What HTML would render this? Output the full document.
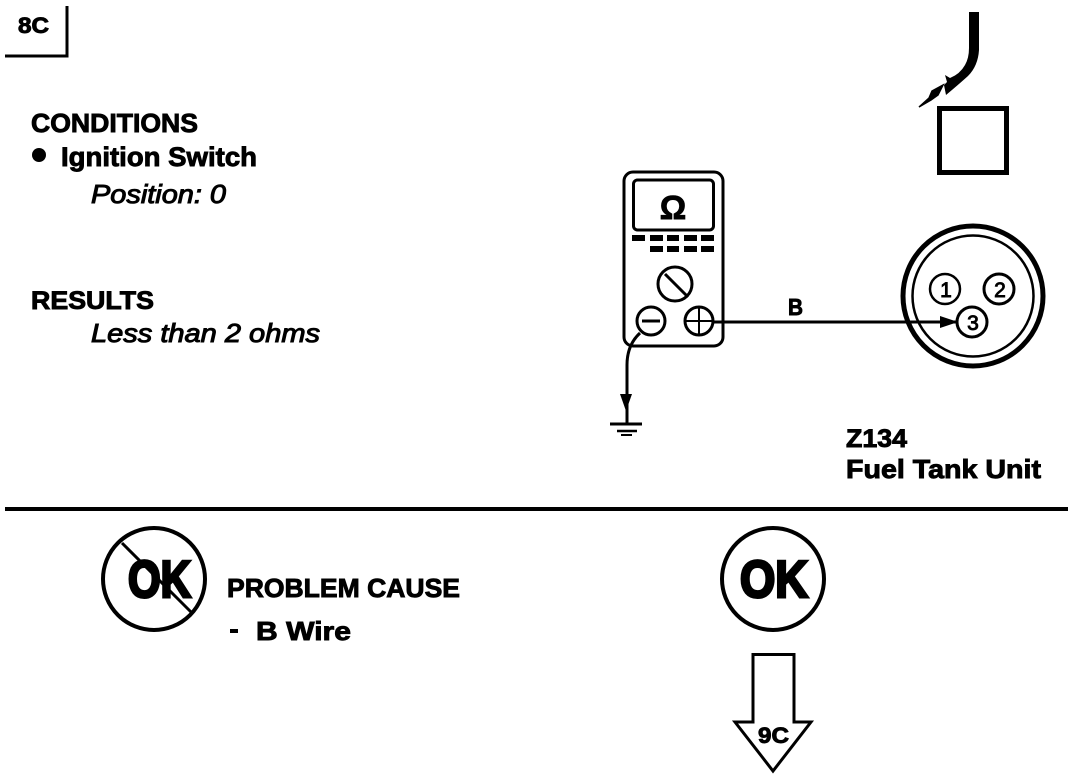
<!DOCTYPE html>
<html><head><meta charset="utf-8"><style>
html,body{margin:0;padding:0;background:#fff;width:1088px;height:778px;overflow:hidden}
svg{display:block}
text{font-family:"Liberation Sans",sans-serif;fill:#000;stroke:#000;stroke-width:.9;font-weight:bold}
.i{font-style:italic;font-weight:normal;stroke-width:1}
.n{font-weight:normal;stroke-width:.9}
.ok{stroke-width:3}
</style></head><body>
<svg width="1088" height="778" viewBox="0 0 1088 778" xmlns="http://www.w3.org/2000/svg" fill="none" stroke="#000">
<path d="M5 56H67V6" stroke-width="3"/>
<text x="18" y="33" font-size="22" textLength="31" lengthAdjust="spacingAndGlyphs">8C</text>
<text x="31" y="132" font-size="26" textLength="167" lengthAdjust="spacingAndGlyphs">CONDITIONS</text>
<circle cx="39" cy="155" r="7" fill="#000" stroke="none"/>
<text x="61" y="166" font-size="27" textLength="196" lengthAdjust="spacingAndGlyphs">Ignition Switch</text>
<text class="i" x="91" y="203" font-size="26" textLength="135" lengthAdjust="spacingAndGlyphs">Position: 0</text>
<text x="31" y="309" font-size="25" textLength="123" lengthAdjust="spacingAndGlyphs">RESULTS</text>
<text class="i" x="91" y="342" font-size="26" textLength="229" lengthAdjust="spacingAndGlyphs">Less than 2 ohms</text>

<path d="M969 12H979V50Q978 66 968 76Q958 85 946 95L944 85 947 82 945 75 950 78Q960 74 965 65Q969 58 969 48Z" fill="#000" stroke="none"/>
<path d="M919 107L929 98 932 91 943 85 938 95 931 100Z" fill="#000" stroke="#000" stroke-width="1.500"/>
<rect x="939.500" y="108.500" width="67" height="64" stroke-width="5"/>

<rect x="624" y="172" width="99" height="174" rx="9" stroke-width="3"/>
<rect x="633.500" y="180" width="80" height="50" rx="4" stroke-width="3"/>
<text x="673" y="219" font-size="33" text-anchor="middle">Ω</text>
<g fill="#000" stroke="none">
<rect x="632" y="235" width="13" height="6"/><rect x="650" y="235" width="13" height="6"/><rect x="667" y="235" width="12" height="6"/><rect x="684" y="235" width="13" height="6"/><rect x="701" y="235" width="13" height="6"/>
<rect x="650" y="246" width="13" height="6"/><rect x="667" y="246" width="12" height="6"/><rect x="684" y="246" width="13" height="6"/><rect x="701" y="246" width="13" height="6"/>
</g>
<circle cx="675" cy="284" r="17" stroke-width="3"/>
<path d="M665 274L688 297" stroke-width="3"/>
<circle cx="651" cy="321" r="14" stroke-width="3"/>
<path d="M642 321H660" stroke-width="3"/>
<circle cx="699" cy="321" r="14" stroke-width="3"/>
<path d="M686 321H712M699 308V334" stroke-width="2"/>
<path d="M640 333Q627 345 627 365V424" stroke-width="3"/>
<path d="M620 394H632L626 411Z" fill="#000" stroke="none"/>
<path d="M610 424H642" stroke-width="3"/>
<path d="M617 431H637" stroke-width="2.500"/>
<path d="M621 435H632" stroke-width="2"/>

<path d="M713 322H958" stroke-width="3"/>
<path d="M940 316L958 322 940 328Z" fill="#000" stroke="none"/>
<text x="788" y="315" font-size="23" textLength="15" lengthAdjust="spacingAndGlyphs">B</text>
<circle cx="973" cy="296" r="70" stroke-width="5"/>
<circle cx="973" cy="296" r="60.500" stroke-width="2.500"/>
<circle cx="945" cy="289" r="15" stroke-width="2.500"/>
<circle cx="999" cy="289" r="15" stroke-width="3"/>
<circle cx="972" cy="322" r="15" stroke-width="3" fill="#fff"/>
<text class="n" x="946" y="297" font-size="21" text-anchor="middle">1</text>
<text class="n" x="1000" y="297" font-size="21" text-anchor="middle">2</text>
<text class="n" x="973" y="330" font-size="21" text-anchor="middle">3</text>

<text x="846" y="447" font-size="25" textLength="61" lengthAdjust="spacingAndGlyphs">Z134</text>
<text x="846" y="478" font-size="26" textLength="195" lengthAdjust="spacingAndGlyphs">Fuel Tank Unit</text>

<path d="M5 509H1068" stroke-width="4"/>

<circle cx="154" cy="579" r="51" stroke-width="4"/>
<text class="ok" x="128" y="597" font-size="52" textLength="63" lengthAdjust="spacingAndGlyphs">OK</text>
<path d="M122 543L192 613" stroke-width="3"/>
<text x="227" y="597" font-size="26" textLength="233" lengthAdjust="spacingAndGlyphs">PROBLEM CAUSE</text>
<rect x="230" y="629" width="8" height="4" fill="#000" stroke="none"/>
<text x="256" y="640" font-size="26" textLength="95" lengthAdjust="spacingAndGlyphs">B Wire</text>

<circle cx="773" cy="579" r="51" stroke-width="4"/>
<text class="ok" x="740" y="597" font-size="52" textLength="68" lengthAdjust="spacingAndGlyphs">OK</text>
<path d="M753 654.500H794V722H811L773 771 735 722H753Z" stroke-width="3"/>
<text x="758" y="743" font-size="22" textLength="31" lengthAdjust="spacingAndGlyphs">9C</text>
</svg>
</body></html>
